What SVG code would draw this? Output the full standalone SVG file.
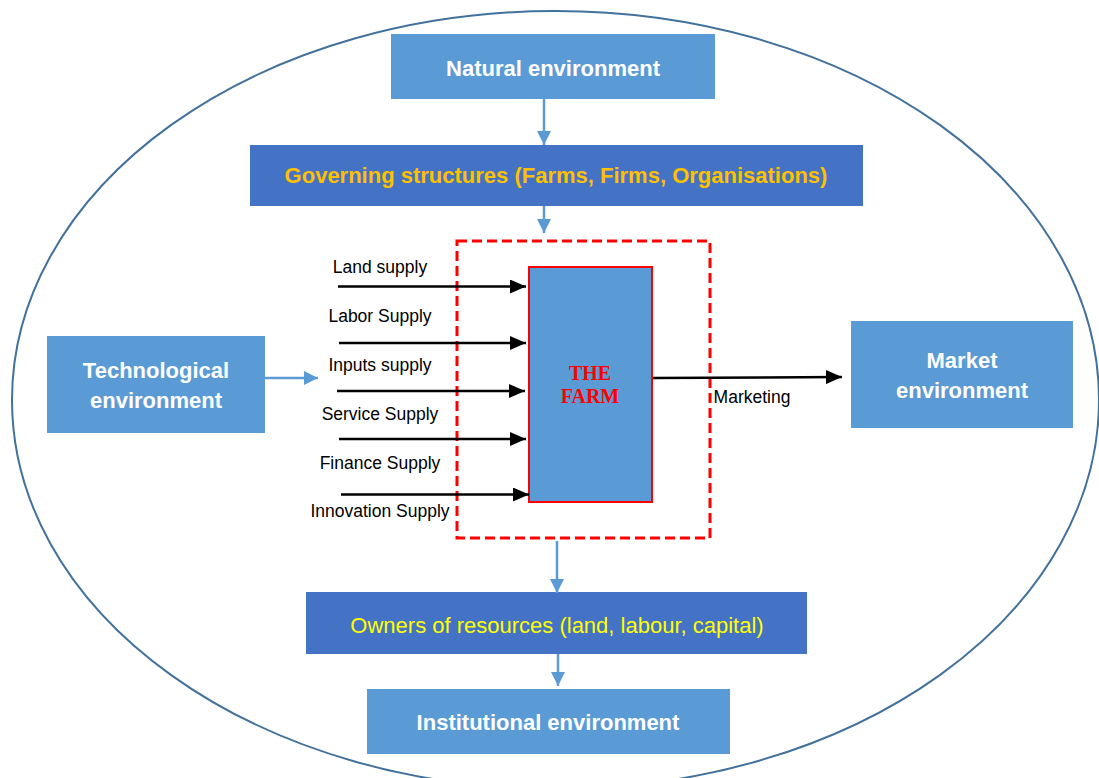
<svg xmlns="http://www.w3.org/2000/svg" width="1099" height="778" viewBox="0 0 1099 778">
<defs>
<style>
.env{fill:#5B9BD5}
.gov{fill:#4472C4}
.wt{fill:#fff;font-family:"Liberation Sans",Arial,sans-serif;font-weight:bold;font-size:22px;text-anchor:middle}
.lbl{fill:#000;font-family:"Liberation Sans",Arial,sans-serif;font-size:17.5px;text-anchor:middle}
.farmt{fill:#FF0000;font-family:"Liberation Serif","Times New Roman",serif;font-weight:bold;font-size:20px;text-anchor:middle}
.blk{stroke:#000;stroke-width:2.5;fill:none}
.blu{stroke:#5B9BD5;stroke-width:2.5;fill:none}
</style>
<marker id="abk" markerWidth="16" markerHeight="14" refX="16" refY="7" orient="auto" markerUnits="userSpaceOnUse">
<path d="M0,0 L16,7 L0,14 z" fill="#000"/>
</marker>
<marker id="abl" markerWidth="14" markerHeight="14" refX="14" refY="7" orient="auto" markerUnits="userSpaceOnUse">
<path d="M0,0 L14,7 L0,14 z" fill="#5B9BD5"/>
</marker>
</defs>
<rect width="1099" height="778" fill="#fff"/>
<ellipse cx="555.5" cy="400" rx="543.5" ry="389" fill="none" stroke="#41719C" stroke-width="2"/>

<g id="natural">
<rect class="env" x="391" y="34" width="324" height="65"/>
<text class="wt" x="553" y="76">Natural environment</text>
</g>
<g id="governing">
<rect class="gov" x="250" y="145" width="613" height="61"/>
<text class="wt" x="556" y="183" style="fill:#FFC000">Governing structures (Farms, Firms, Organisations)</text>
</g>
<g id="farm-boundary">
<rect x="457" y="241" width="253" height="297" fill="none" stroke="#FF0000" stroke-width="3" stroke-dasharray="10,5"/>
</g>
<g id="farm">
<rect x="529" y="267" width="123" height="235" fill="#5B9BD5" stroke="#FF0000" stroke-width="2"/>
<text class="farmt" x="590" y="380">THE</text>
<text class="farmt" x="590" y="403">FARM</text>
</g>
<g id="technological">
<rect class="env" x="47" y="336" width="218" height="97"/>
<text class="wt" x="156" y="378">Technological</text>
<text class="wt" x="156" y="408">environment</text>
</g>
<g id="market">
<rect class="env" x="851" y="321" width="222" height="107"/>
<text class="wt" x="962" y="368">Market</text>
<text class="wt" x="962" y="398">environment</text>
</g>
<g id="owners">
<rect class="gov" x="306" y="592" width="501" height="62"/>
<text x="557" y="633" fill="#FFFF00" font-family="Liberation Sans,Arial,sans-serif" font-size="22" text-anchor="middle">Owners of resources (land, labour, capital)</text>
</g>
<g id="institutional">
<rect class="env" x="367" y="689" width="363" height="65"/>
<text class="wt" x="548" y="730">Institutional environment</text>
</g>

<g id="connectors">
<line class="blu" x1="544" y1="99" x2="544" y2="145" marker-end="url(#abl)"/>
<line class="blu" x1="544" y1="206" x2="544" y2="233" marker-end="url(#abl)"/>
<line class="blu" x1="265" y1="378" x2="318" y2="378" marker-end="url(#abl)"/>
<line class="blu" x1="557" y1="541" x2="557" y2="593" marker-end="url(#abl)"/>
<line class="blu" x1="558" y1="654" x2="558" y2="686" marker-end="url(#abl)"/>
<line class="blk" x1="338" y1="286.5" x2="526" y2="286.5" marker-end="url(#abk)"/>
<line class="blk" x1="339" y1="343" x2="526" y2="343" marker-end="url(#abk)"/>
<line class="blk" x1="337" y1="391" x2="525" y2="391" marker-end="url(#abk)"/>
<line class="blk" x1="339" y1="439" x2="526" y2="439" marker-end="url(#abk)"/>
<line class="blk" x1="341" y1="494.5" x2="529" y2="494.5" marker-end="url(#abk)"/>
<line class="blk" x1="653" y1="378" x2="842" y2="377" marker-end="url(#abk)"/>
<text class="lbl" x="380" y="273">Land supply</text>
<text class="lbl" x="380" y="322">Labor Supply</text>
<text class="lbl" x="380" y="371">Inputs supply</text>
<text class="lbl" x="380" y="420">Service Supply</text>
<text class="lbl" x="380" y="469">Finance Supply</text>
<text class="lbl" x="380" y="517">Innovation Supply</text>
<text class="lbl" x="752" y="403">Marketing</text>
</g>
</svg>
